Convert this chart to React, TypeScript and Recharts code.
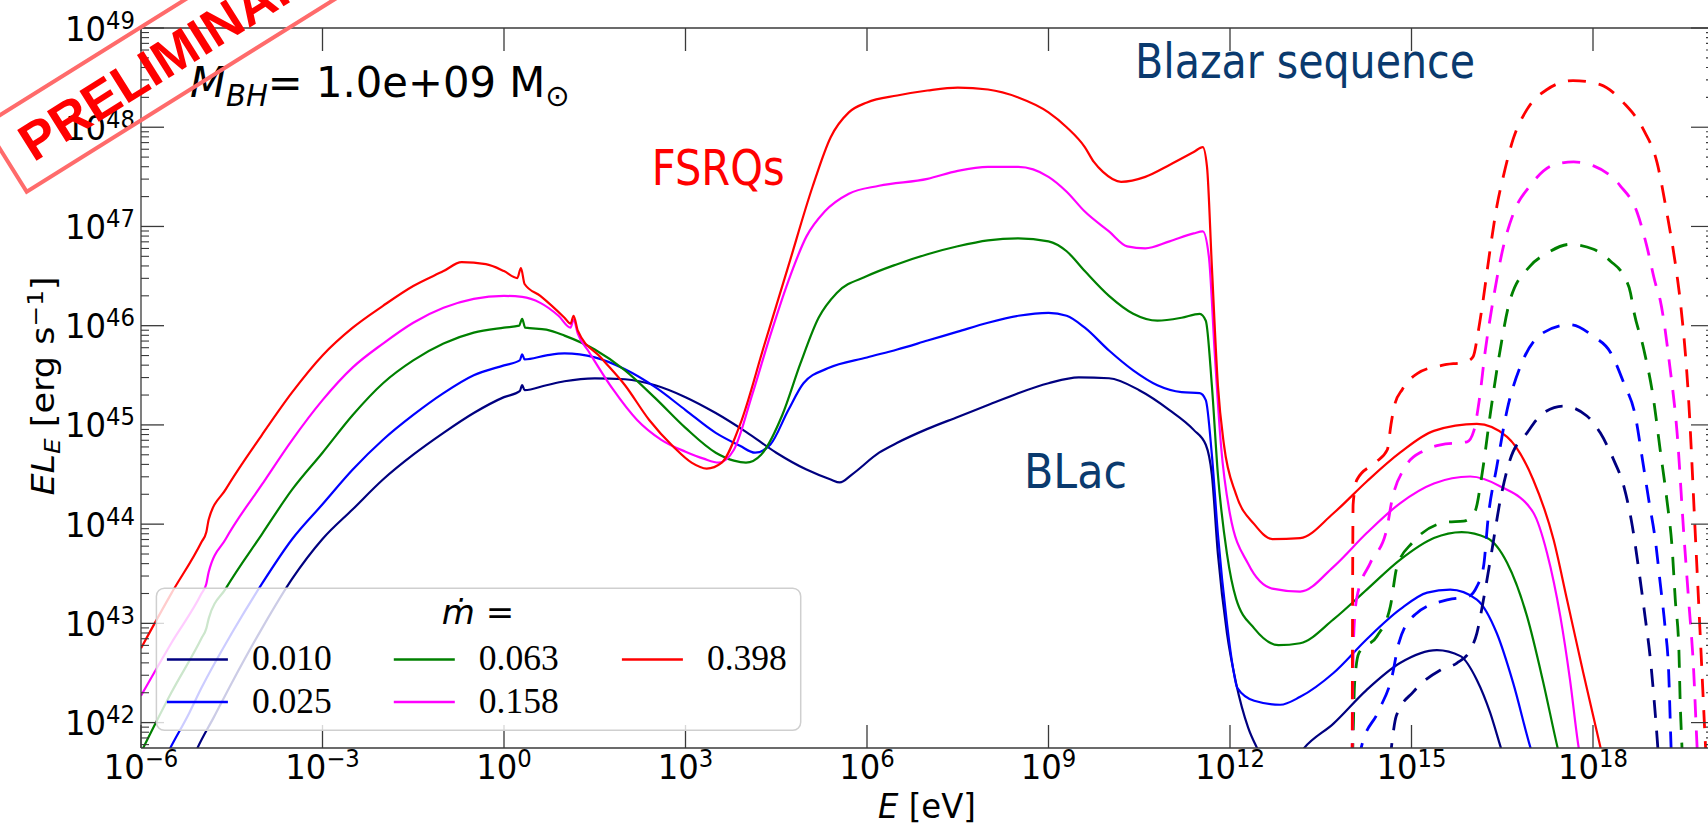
import { Line, LineChart, XAxis, YAxis } from "recharts";

const AXIS = "#3a3a3a";
const FONT = "'DejaVu Sans', Verdana, sans-serif";

// pairs of [log10 E/eV, log10 E L_E / erg s^-1]
const navySolid: [number, number][] = [
  [-5.3, 41.4], [-5.07, 41.74], [-4.8, 42.05], [-4.5, 42.4], [-4.0, 42.95], [-3.5, 43.45], [-3.0, 43.85],
  [-2.5, 44.15], [-2.0, 44.45], [-1.5, 44.7], [-1.0, 44.92], [-0.5, 45.12], [0.0, 45.28], [0.26, 45.34],
  [0.3, 45.4], [0.34, 45.35], [0.7, 45.4], [1.0, 45.44], [1.5, 45.47], [2.0, 45.46], [2.5, 45.4],
  [3.0, 45.28], [3.5, 45.12], [4.0, 44.93], [4.5, 44.72], [5.0, 44.55], [5.4, 44.45], [5.55, 44.42],
  [5.75, 44.5], [6.2, 44.72], [6.5, 44.82], [7.0, 44.96], [7.5, 45.08], [8.0, 45.2], [8.5, 45.32],
  [9.0, 45.42], [9.5, 45.48], [10.0, 45.47], [10.5, 45.35], [11.0, 45.15], [11.4, 44.95], [11.6, 44.8],
  [11.7, 44.5], [11.8, 43.7], [11.95, 42.9], [12.1, 42.4], [12.3, 41.95], [12.45, 41.74], [12.8, 41.35],
  [13.22, 41.74], [13.71, 41.99], [14.26, 42.33], [14.81, 42.6], [15.42, 42.73], [15.81, 42.67],
  [16.08, 42.43], [16.3, 42.1], [16.47, 41.76], [16.7, 41.3],
];
const blueSolid: [number, number][] = [
  [-5.8, 41.4], [-5.52, 41.74], [-5.2, 42.1], [-5.0, 42.35], [-4.5, 42.9], [-4.0, 43.4], [-3.5, 43.85],
  [-3.0, 44.2], [-2.5, 44.55], [-2.0, 44.85], [-1.5, 45.1], [-1.0, 45.32], [-0.5, 45.5], [0.0, 45.6],
  [0.26, 45.65], [0.3, 45.71], [0.34, 45.66], [0.7, 45.7], [1.0, 45.72], [1.5, 45.68], [2.0, 45.56],
  [2.5, 45.38], [3.0, 45.15], [3.5, 44.92], [3.9, 44.79], [4.15, 44.72], [4.4, 44.8], [4.7, 45.15],
  [4.95, 45.42], [5.35, 45.57], [6.0, 45.68], [6.5, 45.76], [7.0, 45.85], [7.5, 45.94], [8.0, 46.03],
  [8.5, 46.1], [9.0, 46.13], [9.3, 46.1], [9.6, 45.98], [10.0, 45.75], [10.4, 45.55], [10.8, 45.4],
  [11.2, 45.33], [11.5, 45.32], [11.6, 45.25], [11.7, 44.7], [11.8, 43.9], [11.95, 43.0], [12.05, 42.55],
  [12.12, 42.35], [12.4, 42.22], [12.83, 42.18], [13.16, 42.26], [13.71, 42.5], [14.26, 42.84],
  [14.81, 43.14], [15.26, 43.31], [15.64, 43.34], [16.08, 43.24], [16.41, 42.9], [16.68, 42.4],
  [16.96, 41.76], [17.2, 41.3],
];
const greenSolid: [number, number][] = [
  [-6.0, 41.7], [-5.5, 42.3], [-5.0, 42.85], [-4.92, 42.95], [-4.88, 43.05], [-4.6, 43.35], [-4.0, 43.9],
  [-3.5, 44.35], [-3.0, 44.72], [-2.5, 45.1], [-2.0, 45.42], [-1.5, 45.65], [-1.0, 45.82], [-0.5, 45.93],
  [0.0, 45.98], [0.25, 46.0], [0.3, 46.07], [0.35, 45.98], [0.7, 45.96], [1.0, 45.9], [1.5, 45.76],
  [2.0, 45.55], [2.5, 45.27], [3.0, 44.97], [3.5, 44.72], [3.8, 44.64], [4.0, 44.62], [4.25, 44.7],
  [4.6, 45.1], [4.9, 45.62], [5.2, 46.08], [5.5, 46.33], [6.0, 46.5], [6.5, 46.62], [7.0, 46.72],
  [7.5, 46.8], [8.0, 46.86], [8.5, 46.88], [9.0, 46.85], [9.3, 46.75], [9.6, 46.55], [10.0, 46.3],
  [10.4, 46.12], [10.8, 46.05], [11.2, 46.08], [11.5, 46.12], [11.6, 46.05], [11.7, 45.4], [11.8, 44.5],
  [11.95, 43.7], [12.1, 43.25], [12.4, 42.95], [12.8, 42.78], [13.16, 42.8], [13.71, 43.04], [14.26, 43.34],
  [14.81, 43.64], [15.37, 43.86], [15.83, 43.92], [16.25, 43.86], [16.58, 43.61], [16.91, 43.07],
  [17.18, 42.4], [17.41, 41.76], [17.6, 41.3],
];
const magentaSolid: [number, number][] = [
  [-6.0, 42.27], [-5.5, 42.8], [-5.0, 43.3], [-4.92, 43.4], [-4.88, 43.52], [-4.6, 43.85], [-4.0, 44.4],
  [-3.5, 44.85], [-3.0, 45.25], [-2.5, 45.58], [-2.0, 45.82], [-1.5, 46.03], [-1.0, 46.18], [-0.5, 46.27],
  [0.0, 46.3], [0.3, 46.29], [0.6, 46.23], [0.9, 46.1], [1.1, 45.98], [1.15, 46.06], [1.22, 45.92],
  [1.4, 45.74], [1.8, 45.36], [2.2, 45.05], [2.6, 44.85], [3.0, 44.73], [3.3, 44.66], [3.55, 44.62],
  [3.8, 44.75], [4.1, 45.3], [4.4, 45.9], [4.7, 46.45], [5.0, 46.9], [5.3, 47.15], [5.7, 47.33],
  [6.2, 47.41], [7.0, 47.48], [7.5, 47.56], [8.0, 47.6], [8.5, 47.6], [9.0, 47.5], [9.3, 47.35],
  [9.6, 47.15], [10.0, 46.95], [10.3, 46.8], [10.6, 46.78], [11.0, 46.85], [11.4, 46.93], [11.55, 46.95],
  [11.65, 46.7], [11.75, 45.7], [11.85, 44.8], [12.0, 44.1], [12.3, 43.6], [12.7, 43.35], [13.16, 43.32],
  [13.71, 43.57], [14.26, 43.91], [14.81, 44.21], [15.37, 44.41], [15.97, 44.48], [16.47, 44.38],
  [17.01, 44.12], [17.24, 43.71], [17.46, 43.07], [17.62, 42.43], [17.76, 41.76], [17.9, 41.3],
];
const redSolid: [number, number][] = [
  [-6.0, 42.75], [-5.5, 43.3], [-5.0, 43.82], [-4.92, 43.92], [-4.88, 44.05], [-4.6, 44.35], [-4.0, 44.9],
  [-3.5, 45.33], [-3.0, 45.7], [-2.5, 45.98], [-2.0, 46.2], [-1.5, 46.4], [-1.0, 46.55], [-0.7, 46.64],
  [-0.3, 46.62], [0.0, 46.55], [0.22, 46.48], [0.28, 46.58], [0.34, 46.42], [0.6, 46.3], [1.0, 46.08],
  [1.1, 46.02], [1.15, 46.1], [1.22, 45.95], [1.6, 45.68], [2.0, 45.4], [2.4, 45.05], [2.8, 44.78],
  [3.1, 44.62], [3.35, 44.56], [3.6, 44.62], [3.9, 45.0], [4.3, 45.8], [4.7, 46.6], [5.1, 47.4],
  [5.4, 47.9], [5.7, 48.15], [6.0, 48.25], [6.5, 48.32], [7.0, 48.37], [7.5, 48.4], [8.0, 48.38],
  [8.5, 48.3], [9.0, 48.15], [9.3, 48.0], [9.6, 47.8], [9.75, 47.65], [9.9, 47.55], [10.2, 47.45],
  [10.6, 47.5], [11.0, 47.62], [11.4, 47.75], [11.55, 47.8], [11.62, 47.6], [11.7, 46.6], [11.8, 45.4],
  [11.9, 44.8], [12.1, 44.3], [12.4, 44.0], [12.7, 43.85], [13.16, 43.86], [13.71, 44.11], [14.26, 44.43],
  [14.81, 44.72], [15.37, 44.94], [16.08, 45.01], [16.58, 44.88], [17.01, 44.45], [17.35, 43.84],
  [17.57, 43.24], [17.84, 42.5], [18.12, 41.76], [18.3, 41.3],
];

const navyDashed: [number, number][] = [
  [14.6, 41.3], [14.67, 41.76], [14.75, 42.07], [15.03, 42.31], [15.48, 42.53], [15.75, 42.6], [15.97, 42.73],
  [16.08, 42.9], [16.19, 43.24], [16.33, 43.74], [16.47, 44.25], [16.63, 44.65], [16.91, 44.92],
  [17.18, 45.12], [17.51, 45.19], [17.9, 45.09], [18.12, 44.92], [18.34, 44.65], [18.51, 44.38],
  [18.65, 43.98], [18.75, 43.57], [18.86, 43.07], [18.95, 42.63], [19.01, 42.23], [19.07, 41.76], [19.12, 41.3],
];
const blueDashed: [number, number][] = [
  [14.12, 41.3], [14.17, 41.75], [14.45, 42.11], [14.68, 42.47], [14.79, 42.8], [15.06, 43.09],
  [15.61, 43.24], [15.94, 43.27], [16.08, 43.37], [16.19, 43.57], [16.27, 44.08], [16.41, 44.58],
  [16.58, 45.15], [16.8, 45.59], [17.18, 45.93], [17.62, 46.01], [18.01, 45.89], [18.29, 45.73],
  [18.51, 45.42], [18.7, 45.09], [18.81, 44.68], [18.92, 44.25], [19.03, 43.84], [19.11, 43.41],
  [19.19, 42.97], [19.25, 42.52], [19.29, 41.76], [19.32, 41.3],
];
const greenDashed: [number, number][] = [
  [14.0, 41.3], [14.03, 41.76], [14.06, 42.4], [14.13, 42.7], [14.43, 42.87], [14.65, 43.17], [14.76, 43.57],
  [15.01, 43.81], [15.59, 44.02], [15.86, 44.03], [16.05, 44.13], [16.17, 44.52], [16.3, 45.1],
  [16.45, 45.7], [16.63, 46.26], [16.96, 46.6], [17.24, 46.73], [17.62, 46.82], [18.01, 46.77],
  [18.29, 46.65], [18.51, 46.5], [18.62, 46.33], [18.67, 46.16], [18.84, 45.76], [19.0, 45.26],
  [19.11, 44.75], [19.22, 44.25], [19.31, 43.74], [19.36, 43.24], [19.42, 42.73], [19.44, 42.23],
  [19.47, 41.76], [19.5, 41.3],
];
const magentaDashed: [number, number][] = [
  [13.99, 41.3], [14.02, 41.76], [14.03, 42.5], [14.05, 42.95], [14.1, 43.27], [14.32, 43.61],
  [14.58, 43.92], [14.68, 44.25], [14.9, 44.58], [15.2, 44.74], [15.48, 44.8], [15.92, 44.83],
  [16.03, 44.94], [16.12, 45.25], [16.22, 45.75], [16.35, 46.26], [16.52, 46.8], [16.69, 47.14],
  [16.96, 47.41], [17.35, 47.62], [17.68, 47.65], [18.01, 47.61], [18.45, 47.41], [18.73, 47.14],
  [18.89, 46.8], [19.03, 46.43], [19.11, 46.26], [19.27, 45.59], [19.39, 44.92], [19.5, 43.91],
  [19.58, 43.24], [19.66, 42.57], [19.72, 41.76], [19.76, 41.3],
];
const redDashed: [number, number][] = [
  [14.0, 41.3], [14.02, 41.76], [14.025, 43.0], [14.035, 44.2], [14.1, 44.45], [14.4, 44.62], [14.6, 44.75],
  [14.66, 45.0], [14.72, 45.2], [14.85, 45.36], [15.1, 45.52], [15.5, 45.6], [15.92, 45.64], [16.02, 45.69],
  [16.1, 45.93], [16.17, 46.2], [16.3, 46.77], [16.41, 47.2], [16.52, 47.51], [16.68, 47.88],
  [16.91, 48.18], [17.24, 48.38], [17.67, 48.47], [18.12, 48.43], [18.5, 48.25], [18.83, 47.98],
  [19.06, 47.64], [19.22, 47.14], [19.39, 46.5], [19.44, 46.26], [19.58, 45.26], [19.69, 43.91],
  [19.77, 42.91], [19.86, 41.76], [19.9, 41.3],
];

const mdotLabels = ["0.010", "0.025", "0.063", "0.158", "0.398"];
const colors = ["#000080", "#0000ff", "#008000", "#ff00ff", "#ff0000"];
const solidCurves = [navySolid, blueSolid, greenSolid, magentaSolid, redSolid];
const dashedCurves = [navyDashed, blueDashed, greenDashed, magentaDashed, redDashed];

const xMajorExp = [-6, -3, 0, 3, 6, 9, 12, 15, 18];
const Y_MIN = 10 ** 41.744;
const Y_MAX = 1e49;

const toPts = (arr: [number, number][]) => arr.map(([e, l]) => ({ E: 10 ** e, L: 10 ** l }));

const xTicks = xMajorExp.map((n) => 10 ** n);
const yTicks: number[] = [];
for (let n = 41; n <= 48; n++) {
  for (let m = 1; m <= 9; m++) {
    const v = m * 10 ** n;
    if (v >= Y_MIN && v <= Y_MAX) yTicks.push(v);
  }
}
yTicks.push(Y_MAX);

const isMajor = (v: number) => Math.abs(Math.log10(v) - Math.round(Math.log10(v))) < 1e-6;
const expText = (n: number) => (n < 0 ? "\u2212" + Math.abs(n) : String(n));

function BottomTick({ x, y, payload }: any) {
  const n = Math.round(Math.log10(payload.value));
  return (
    <g>
      <line x1={x} x2={x} y1={y} y2={y - 23} stroke={AXIS} strokeWidth={1.3} />
      <text transform={`translate(${x},${y + 31}) scale(0.95,1)`} textAnchor="middle" fontFamily={FONT} fontSize={34} fill="#000">
        10<tspan dy={-12} fontSize={24}>{expText(n)}</tspan>
      </text>
    </g>
  );
}

function TopTick({ x, y }: any) {
  return <line x1={x} x2={x} y1={y} y2={y + 23} stroke={AXIS} strokeWidth={1.3} />;
}

function LeftTick({ x, y, payload }: any) {
  const v = payload.value;
  if (!isMajor(v)) return <line x1={x} x2={x + 8} y1={y} y2={y} stroke={AXIS} strokeWidth={1.1} />;
  const n = Math.round(Math.log10(v));
  return (
    <g>
      <line x1={x} x2={x + 23} y1={y} y2={y} stroke={AXIS} strokeWidth={1.3} />
      <text transform={`translate(${x - 6},${y + 12.5}) scale(0.95,1)`} textAnchor="end" fontFamily={FONT} fontSize={34} fill="#000">
        10<tspan dy={-12} fontSize={24}>{expText(n)}</tspan>
      </text>
    </g>
  );
}

function RightTick({ x, y, payload }: any) {
  const len = isMajor(payload.value) ? 23 : 8;
  return <line x1={x} x2={x - len} y1={y} y2={y} stroke={AXIS} strokeWidth={1.2} />;
}

function Overlay() {
  const colX = [166.9, 393.8, 621.9];
  const rowY = [659.6, 702];
  return (
    <svg width={1708} height={825} style={{ position: "absolute", left: 0, top: 0, pointerEvents: "none" }}>
      {/* legend */}
      <rect x={156.4} y={588.2} width={644.3} height={142.1} rx={8} fill="#fff" fillOpacity={0.8} stroke="#cfcfcf" strokeWidth={1.5} />
      <text x={478} y={624} textAnchor="middle" fontFamily={FONT} fontSize={34} fill="#000">
        <tspan fontStyle="italic">{"\u1e41"}</tspan>
        <tspan> =</tspan>
      </text>
      {mdotLabels.map((lab, i) => {
        const cx = colX[Math.floor(i / 2)];
        const cy = rowY[i % 2];
        return (
          <g key={lab}>
            <line x1={cx} x2={cx + 61} y1={cy} y2={cy} stroke={colors[i]} strokeWidth={2.5} />
            <text x={cx + 85} y={cy + 10.5} fontFamily="'Liberation Serif', 'Times New Roman', serif" fontSize={35} textLength={80} lengthAdjust="spacingAndGlyphs" fill="#000">
              {lab}
            </text>
          </g>
        );
      })}

      {/* annotations */}
      <text transform="translate(190,96.7) scale(0.97,1)" fontFamily={FONT} fontSize={43} fill="#000">
        <tspan fontStyle="italic">M</tspan>
        <tspan fontStyle="italic" fontSize={30} dy={9}>BH</tspan>
        <tspan dy={-9}>= 1.0e+09 M</tspan>
        <tspan fontSize={30} dy={9}>{"\u2299"}</tspan>
      </text>
      <text x={1135} y={78.3} fontFamily={FONT} fontSize={48} textLength={340} lengthAdjust="spacingAndGlyphs" fill="#0a3a6e">
        Blazar sequence
      </text>
      <text x={651.7} y={185} fontFamily={FONT} fontSize={50} textLength={133} lengthAdjust="spacingAndGlyphs" fill="#ff0000">
        FSRQs
      </text>
      <text x={1024} y={488} fontFamily={FONT} fontSize={48} textLength={103} lengthAdjust="spacingAndGlyphs" fill="#0a3a6e">
        BLac
      </text>

      {/* axis titles */}
      <text transform="translate(927,818) scale(0.95,1)" textAnchor="middle" fontFamily={FONT} fontSize={34} fill="#000">
        <tspan fontStyle="italic">E</tspan> [eV]
      </text>
      <text transform="translate(54,386) rotate(-90) scale(1.03,0.92)" textAnchor="middle" fontFamily={FONT} fontSize={34} fill="#000">
        <tspan fontStyle="italic">EL</tspan>
        <tspan fontStyle="italic" fontSize={24} dy={7}>E</tspan>
        <tspan dy={-7}> [erg s</tspan>
        <tspan fontSize={24} dy={-12}>{"\u22121"}</tspan>
        <tspan dy={12}>]</tspan>
      </text>

      {/* stamp */}
      <g transform="translate(26.7,191.7) rotate(-32)">
        <rect x={0} y={-79} width={640} height={79} fill="none" stroke="#ff6b6b" strokeWidth={4} />
        <text x={21} y={-21} fontFamily="'Liberation Sans', Arial, sans-serif" fontWeight="bold" fontSize={53} fill="#ff0000">
          PRELIMINARY
        </text>
      </g>
    </svg>
  );
}

export default function App() {
  return (
    <div style={{ position: "absolute", left: 0, top: 0, width: 1708, height: 825, overflow: "hidden", background: "#fff" }}>
      <LineChart width={1740} height={825} margin={{ top: 27, right: 25, bottom: 0, left: 0 }}>
        <XAxis
          xAxisId="b"
          type="number"
          dataKey="E"
          scale="log"
          domain={[1e-6, 1e20]}
          allowDataOverflow
          ticks={xTicks}
          interval={0}
          tickSize={0}
          tickMargin={0}
          tickLine={false}
          axisLine={{ stroke: AXIS, strokeWidth: 1.3 }}
          height={77}
          tick={(p: any) => <BottomTick {...p} />}
        />
        <XAxis
          xAxisId="t"
          orientation="top"
          type="number"
          dataKey="E"
          scale="log"
          domain={[1e-6, 1e20]}
          allowDataOverflow
          ticks={xTicks}
          interval={0}
          tickSize={0}
          tickMargin={0}
          tickLine={false}
          axisLine={{ stroke: AXIS, strokeWidth: 1.3 }}
          height={1}
          tick={(p: any) => <TopTick {...p} />}
        />
        <YAxis
          yAxisId="l"
          type="number"
          dataKey="L"
          scale="log"
          domain={[Y_MIN, Y_MAX]}
          allowDataOverflow
          ticks={yTicks}
          interval={0}
          tickSize={0}
          tickMargin={0}
          tickLine={false}
          axisLine={{ stroke: AXIS, strokeWidth: 1.3 }}
          width={141}
          tick={(p: any) => <LeftTick {...p} />}
        />
        <YAxis
          yAxisId="r"
          orientation="right"
          type="number"
          dataKey="L"
          scale="log"
          domain={[Y_MIN, Y_MAX]}
          allowDataOverflow
          ticks={yTicks}
          interval={0}
          tickSize={0}
          tickMargin={0}
          tickLine={false}
          axisLine={{ stroke: AXIS, strokeWidth: 1.3 }}
          width={1}
          tick={(p: any) => <RightTick {...p} />}
        />
        {solidCurves.map((c, i) => (
          <Line
            key={"s" + i}
            xAxisId="b"
            yAxisId="l"
            data={toPts(c)}
            dataKey="L"
            type="monotone"
            stroke={colors[i]}
            strokeWidth={2.2}
            dot={false}
            activeDot={false}
            isAnimationActive={false}
          />
        ))}
        {dashedCurves.map((c, i) => (
          <Line
            key={"d" + i}
            xAxisId="b"
            yAxisId="l"
            data={toPts(c)}
            dataKey="L"
            type="monotone"
            stroke={colors[i]}
            strokeWidth={2.8}
            strokeDasharray="18 13"
            dot={false}
            activeDot={false}
            isAnimationActive={false}
          />
        ))}
      </LineChart>
      <Overlay />
    </div>
  );
}
